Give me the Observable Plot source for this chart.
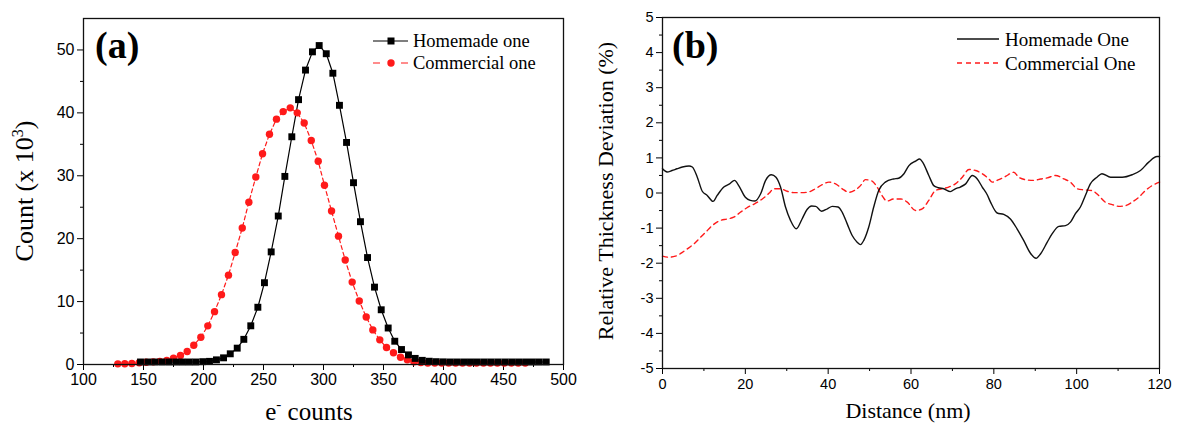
<!DOCTYPE html>
<html><head><meta charset="utf-8">
<script src="https://cdn.jsdelivr.net/npm/d3@7"></script>
<script src="https://cdn.jsdelivr.net/npm/@observablehq/plot@0.6"></script>
<style>
body{margin:0;background:#fff;}
#wrap{display:flex;width:1177px;height:425px;overflow:hidden;}
#wrap svg{flex:none;overflow:visible;}
</style></head><body><div id="wrap"></div>
<script>
// ---------- Panel (a): e- counts histogram ----------
const homeCountX = [147.5,153.6,159.4,165.3,171.1,176.9,182.5,188.1,193.6,199.4,205.0,210.8,216.7,222.3,228.1,233.6,239.4,245.3,250.8,256.4,262.3,267.8,273.6,279.2,285.0,290.8,296.4,302.3,307.8,313.3,319.2,325.0,330.8,336.7,342.5,348.1,353.9,359.4,365.0,370.8,376.4,382.3,388.1,393.8,399.6,405.3,411.0,416.8,422.5,428.2,434.0,439.7,445.4,451.2,456.9,462.6,468.4,474.1,479.8,485.6];
const homeCountY = [0.4,0.4,0.4,0.4,0.4,0.4,0.4,0.4,0.4,0.45,0.5,0.74,1.06,1.7,2.6,4.0,6.15,9.1,13.0,17.9,23.6,29.9,36.2,42.1,46.8,49.7,50.7,49.4,46.3,41.2,35.3,28.9,22.7,17.0,12.3,8.7,5.8,3.7,2.38,1.53,0.97,0.66,0.52,0.45,0.42,0.4,0.4,0.4,0.4,0.4,0.4,0.4,0.4,0.4,0.4,0.4,0.4,0.4,0.4,0.4];
const commCountX = [128.6,134.4,140.3,146.4,152.2,158.1,163.6,169.4,175.0,180.8,186.4,191.9,197.8,203.6,209.2,215.0,220.8,226.4,232.3,237.8,243.6,249.2,255.0,260.8,266.4,272.3,278.1,283.9,289.8,295.6,300.8,306.7,312.5,318.1,323.9,329.8,335.6,341.1,346.9,352.5,358.3,364.2,369.8,375.3,381.1,386.9,392.7,398.5,404.3,410.1,415.9,421.7,427.5,433.3,439.1,444.9,450.7,456.5,462.3,468.1];
const commCountY = [0.1,0.12,0.15,0.28,0.35,0.42,0.5,0.65,1.0,1.45,2.06,3.07,4.33,6.14,8.4,11.1,14.2,17.8,21.7,25.8,29.8,33.5,36.6,39.0,40.2,40.8,40.0,38.4,35.6,32.3,28.5,24.4,20.4,16.6,13.1,10.1,7.56,5.5,3.92,2.7,1.86,1.16,0.75,0.43,0.32,0.25,0.25,0.25,0.25,0.25,0.25,0.25,0.25,0.25,0.25,0.25,0.25,0.25,0.25,0.25];
const xTicksA = [100,150,200,250,300,350,400,450,500];
const xMinorA = [125,175,225,275,325,375,425,475];
const yTicksA = [0,10,20,30,40,50];
const yMinorA = [5,15,25,35,45];
const seriesNamesA = ["Homemade one","Commercial one"];

// ---------- Panel (b): thickness deviation ----------
const homeDevX = [0,1.1,2.3,3.5,4.8,6.4,7.2,8.4,9.6,10.8,12.2,13.2,14.8,16.2,17.4,18.4,20.0,21.2,22.3,23.7,24.9,26.3,27.4,28.5,29.7,30.9,32.3,33.7,34.9,36.0,37.0,38.4,39.8,41.0,42.4,43.4,44.6,45.8,47.0,47.8,48.6,49.8,51.0,52.2,53.8,55.8,57.0,58.3,59.5,61.1,62.1,62.8,64.3,65.5,66.6,67.9,69.5,70.7,71.9,73.2,74.8,76.0,77.2,78.4,79.2,80.8,82.4,84.0,85.6,87.2,88.8,90.2,91.3,92.9,94.1,95.7,97.3,98.5,99.7,100.9,102.1,103.3,104.9,106.1,108.2,111.0,113.4,115.4,117.4,119.4,120];
const homeDevY = [0.69,0.6,0.64,0.69,0.74,0.77,0.74,0.45,0.05,-0.07,-0.24,-0.07,0.17,0.26,0.36,0.21,-0.12,-0.21,-0.23,-0.02,0.36,0.52,0.45,0.17,-0.4,-0.78,-1.02,-0.74,-0.47,-0.37,-0.38,-0.52,-0.45,-0.38,-0.4,-0.55,-0.88,-1.21,-1.4,-1.47,-1.35,-0.97,-0.4,0.07,0.31,0.4,0.42,0.55,0.78,0.91,0.97,0.88,0.5,0.21,0.15,0.12,0.04,0.12,0.17,0.26,0.5,0.4,0.17,-0.05,-0.26,-0.57,-0.61,-0.74,-1.02,-1.35,-1.71,-1.86,-1.73,-1.4,-1.16,-0.95,-0.93,-0.83,-0.59,-0.4,-0.07,0.26,0.45,0.55,0.45,0.45,0.52,0.64,0.88,1.04,1.04];
const commDevX = [0,1.5,3.1,4.3,6.0,7.6,9.2,10.4,12.0,13.6,15.6,17.2,18.8,20.4,22.5,24.1,25.7,26.9,28.5,30.1,31.7,33.7,35.3,36.9,38.6,40.2,41.8,43.4,45.0,46.6,47.8,49.0,50.6,51.8,53.0,54.2,55.8,57.5,59.1,61.1,62.7,64.3,65.9,67.5,69.1,70.7,72.4,74.0,75.6,77.2,78.8,79.6,81.2,82.8,84.8,86.0,87.6,89.6,91.3,92.9,94.9,96.9,98.5,100.1,101.7,103.7,105.3,106.9,108.6,110.2,111.8,113.4,115.0,116.6,118.2,120];
const commDevY = [-1.8,-1.83,-1.8,-1.73,-1.59,-1.45,-1.26,-1.12,-0.93,-0.8,-0.74,-0.69,-0.55,-0.42,-0.29,-0.17,-0.01,0.12,0.12,0.05,0.01,0.01,0.03,0.12,0.24,0.31,0.26,0.12,0.02,0.09,0.21,0.38,0.34,0.17,-0.07,-0.23,-0.17,-0.17,-0.26,-0.5,-0.45,-0.21,0.07,0.12,0.17,0.26,0.45,0.67,0.64,0.55,0.4,0.31,0.38,0.47,0.59,0.45,0.38,0.36,0.4,0.43,0.5,0.4,0.31,0.12,0.09,0.07,-0.07,-0.26,-0.33,-0.38,-0.36,-0.26,-0.12,0.07,0.21,0.31];
const xTicksB = [0,20,40,60,80,100,120];
const xMinorB = [10,30,50,70,90,110];
const yTicksB = [-5,-4,-3,-2,-1,0,1,2,3,4,5];
const yMinorB = [-4.5,-3.5,-2.5,-1.5,-0.5,0.5,1.5,2.5,3.5,4.5];
const seriesNamesB = ["Homemade One","Commercial One"];

const serif = "'Liberation Serif','Times New Roman',serif";
const sans = "'Liberation Sans',Arial,sans-serif";
const RED = "#ff1a1a";

const homeA = homeCountX.map((x,i)=>({x, y: homeCountY[i]}));
const commA = commCountX.map((x,i)=>({x, y: commCountY[i]}));
const homeB = homeDevX.map((x,i)=>({x, y: homeDevY[i]}));
const commB = commDevX.map((x,i)=>({x, y: commDevY[i]}));

const plotA = Plot.plot({
  width: 590, height: 425,
  marginLeft: 83, marginRight: 27, marginTop: 18, marginBottom: 61,
  x: {domain: [100, 500]},
  y: {domain: [0, 55]},
  style: {fontFamily: sans, fontSize: "16px", color: "#000", background: "#fff"},
  marks: [
    Plot.axisX({ticks: xTicksA, tickSize: 6, tickPadding: 3, label: null, tickFormat: d => String(d)}),
    Plot.axisX({ticks: xMinorA, tickSize: 3, text: null, label: null}),
    Plot.axisY({ticks: yTicksA, tickSize: 6, tickPadding: 3, label: null, tickFormat: d => String(d)}),
    Plot.axisY({ticks: yMinorA, tickSize: 3, text: null, label: null}),
    Plot.line(commA, {x: "x", y: "y", stroke: RED, strokeWidth: 1.2, strokeDasharray: "4,3"}),
    Plot.line(homeA, {x: "x", y: "y", stroke: "#000", strokeWidth: 1.2}),
    Plot.dot(commA, {x: "x", y: "y", fill: RED, r: 3.7}),
    Plot.dot(homeA, {x: "x", y: "y", symbol: "square", fill: "#000", r: 3.9}),
    Plot.frame({stroke: "#111", strokeWidth: 1.3})
  ]
});

const plotB = Plot.plot({
  width: 587, height: 425,
  marginLeft: 72, marginRight: 18, marginTop: 17, marginBottom: 57,
  x: {domain: [0, 120]},
  y: {domain: [-5, 5]},
  style: {fontFamily: sans, fontSize: "14.5px", color: "#000", background: "#fff"},
  marks: [
    Plot.axisX({ticks: xTicksB, tickSize: 6, tickPadding: 4, label: null, tickFormat: d => String(d)}),
    Plot.axisX({ticks: xMinorB, tickSize: 3, text: null, label: null}),
    Plot.axisY({ticks: yTicksB, tickSize: 6, tickPadding: 3, label: null, tickFormat: d => String(d)}),
    Plot.axisY({ticks: yMinorB, tickSize: 3, text: null, label: null}),
    Plot.line(commB, {x: "x", y: "y", stroke: RED, strokeWidth: 1.4, strokeDasharray: "5,4", curve: "monotone-x"}),
    Plot.line(homeB, {x: "x", y: "y", stroke: "#111", strokeWidth: 1.4, curve: "monotone-x"}),
    Plot.frame({stroke: "#111", strokeWidth: 1.3})
  ]
});

const wrap = document.getElementById("wrap");
wrap.appendChild(plotA);
wrap.appendChild(plotB);

function addText(svg, x, y, rot, size, parts, opts = {}) {
  const t = svg.append("text")
    .attr("transform", `translate(${x},${y})` + (rot ? ` rotate(${rot})` : ""))
    .attr("text-anchor", opts.anchor || "middle")
    .attr("fill", "#000")
    .style("font-family", opts.family || serif)
    .style("font-size", size + "px")
    .style("font-weight", opts.weight || "normal");
  if (opts.baseline) t.attr("dominant-baseline", opts.baseline);
  parts.forEach(p => {
    const s = t.append("tspan").text(p.t);
    if (p.dy) s.attr("dy", p.dy);
    if (p.size) s.style("font-size", p.size + "px");
  });
  return t;
}

// ---- Panel (a) annotations ----
const sa = d3.select(plotA);
addText(sa, 33, 191, -90, 26, [{t: "Count (x 10"}, {t: "3", dy: -10, size: 16}, {t: ")", dy: 10}]);
addText(sa, 309, 420, 0, 25, [{t: "e"}, {t: "-", dy: -11, size: 15}, {t: " counts", dy: 11}]);
addText(sa, 95, 58, 0, 38, [{t: "(a)"}], {anchor: "start", weight: "bold"});
// legend (a)
const la = sa.append("g");
la.append("line").attr("x1", 373).attr("x2", 408).attr("y1", 41).attr("y2", 41).attr("stroke", "#000").attr("stroke-width", 1.2);
la.append("rect").attr("x", 387.5).attr("y", 37.5).attr("width", 7).attr("height", 7).attr("fill", "#000");
addText(la, 413, 41, 0, 18.5, [{t: seriesNamesA[0]}], {anchor: "start", baseline: "central"});
la.append("line").attr("x1", 373).attr("x2", 408).attr("y1", 63).attr("y2", 63).attr("stroke", RED).attr("stroke-width", 1.2).attr("stroke-dasharray", "7,21");
la.append("circle").attr("cx", 391).attr("cy", 63).attr("r", 3.7).attr("fill", RED);
addText(la, 413, 63, 0, 18.5, [{t: seriesNamesA[1]}], {anchor: "start", baseline: "central"});

// ---- Panel (b) annotations ----
const sb = d3.select(plotB);
addText(sb, 23, 191, -90, 22, [{t: "Relative Thickness Deviation (%)"}]);
addText(sb, 318, 418, 0, 22, [{t: "Distance (nm)"}]);
addText(sb, 82, 58, 0, 38, [{t: "(b)"}], {anchor: "start", weight: "bold"});
const lb = sb.append("g");
lb.append("line").attr("x1", 367).attr("x2", 409).attr("y1", 39).attr("y2", 39).attr("stroke", "#111").attr("stroke-width", 1.4);
addText(lb, 415, 39, 0, 19, [{t: seriesNamesB[0]}], {anchor: "start", baseline: "central"});
lb.append("line").attr("x1", 367).attr("x2", 409).attr("y1", 63).attr("y2", 63).attr("stroke", RED).attr("stroke-width", 1.4).attr("stroke-dasharray", "5,4");
addText(lb, 415, 63, 0, 19, [{t: seriesNamesB[1]}], {anchor: "start", baseline: "central"});
</script></body></html>
